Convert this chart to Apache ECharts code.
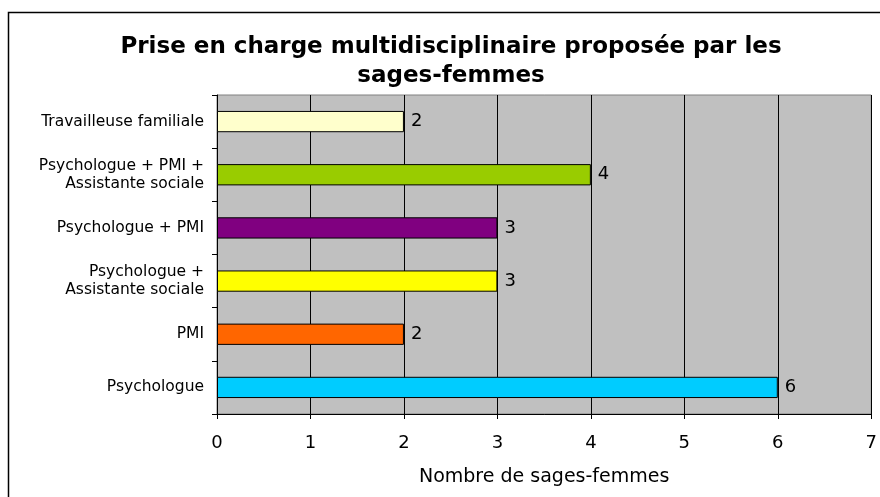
<!DOCTYPE html>
<html>
<head>
<meta charset="utf-8">
<script src="https://cdn.jsdelivr.net/npm/echarts@6/dist/echarts.min.js"></script>
<style>
  html, body { margin: 0; padding: 0; background: #fff; }
  #chart { width: 880px; height: 497px; }
</style>
</head>
<body>
<div id="chart"></div>
<script>
// categories from bottom to top
const categories = [
    "Psychologue",
    "PMI",
    "Psychologue +\nAssistante sociale",
    "Psychologue + PMI",
    "Psychologue + PMI +\nAssistante sociale",
    "Travailleuse familiale"
];
const values = [6, 2, 3, 3, 4, 2];
const barColors = ["#00CCFF", "#FF6600", "#FFFF00", "#800080", "#99CC00", "#FFFFCC"];
const xTicks = [0, 1, 2, 3, 4, 5, 6, 7];

const font = "DejaVu Sans, Liberation Sans, Arial, sans-serif";
const chart = echarts.init(document.getElementById("chart"));

const option = {
    animation: false,
    textStyle: { fontFamily: font },
    title: {
        text: "Prise en charge multidisciplinaire proposée par les\nsages-femmes",
        left: 446,
        textAlign: "center",
        top: 28,
        textStyle: {
            fontSize: 23,
            fontWeight: "bold",
            color: "#000",
            lineHeight: 29,
            fontFamily: font
        }
    },
    graphic: [
        {
            type: "rect",
            shape: { x: 8.5, y: 12.5, width: 900, height: 500 },
            style: { fill: "none", stroke: "#000", lineWidth: 1.5 },
            silent: true
        }
    ],
    grid: {
        left: 217,
        right: 8,
        top: 95,
        bottom: 83,
        show: true,
        backgroundColor: "#C0C0C0",
        borderColor: "#808080",
        borderWidth: 1
    },
    xAxis: {
        type: "value",
        min: xTicks[0],
        max: xTicks[xTicks.length - 1],
        interval: 1,
        name: "Nombre de sages-femmes",
        nameLocation: "middle",
        nameGap: 54,
        nameTextStyle: { fontSize: 19, color: "#000" },
        axisLine: { show: true, lineStyle: { color: "#000", width: 1 } },
        axisTick: { show: true, length: 5, lineStyle: { color: "#000" } },
        axisLabel: { fontSize: 18, color: "#000", margin: 20 },
        splitLine: { show: true, lineStyle: { color: "#000", width: 1 } }
    },
    yAxis: {
        type: "category",
        data: categories,
        axisLine: { show: true, lineStyle: { color: "#000", width: 1 } },
        axisTick: { show: true, length: 5, lineStyle: { color: "#000" } },
        axisLabel: {
            fontSize: 15.5,
            color: "#000",
            margin: 13,
            lineHeight: 18,
            align: "right"
        },
        splitLine: { show: false }
    },
    series: [
        {
            type: "bar",
            data: values.map((v, i) => ({ value: v, itemStyle: { color: barColors[i] } })),
            barCategoryGap: "60%",
            itemStyle: { borderColor: "#000", borderWidth: 1 },
            label: {
                show: true,
                position: "right",
                distance: 7,
                fontSize: 18,
                color: "#000"
            }
        }
    ]
};

chart.setOption(option);
</script>
</body>
</html>
